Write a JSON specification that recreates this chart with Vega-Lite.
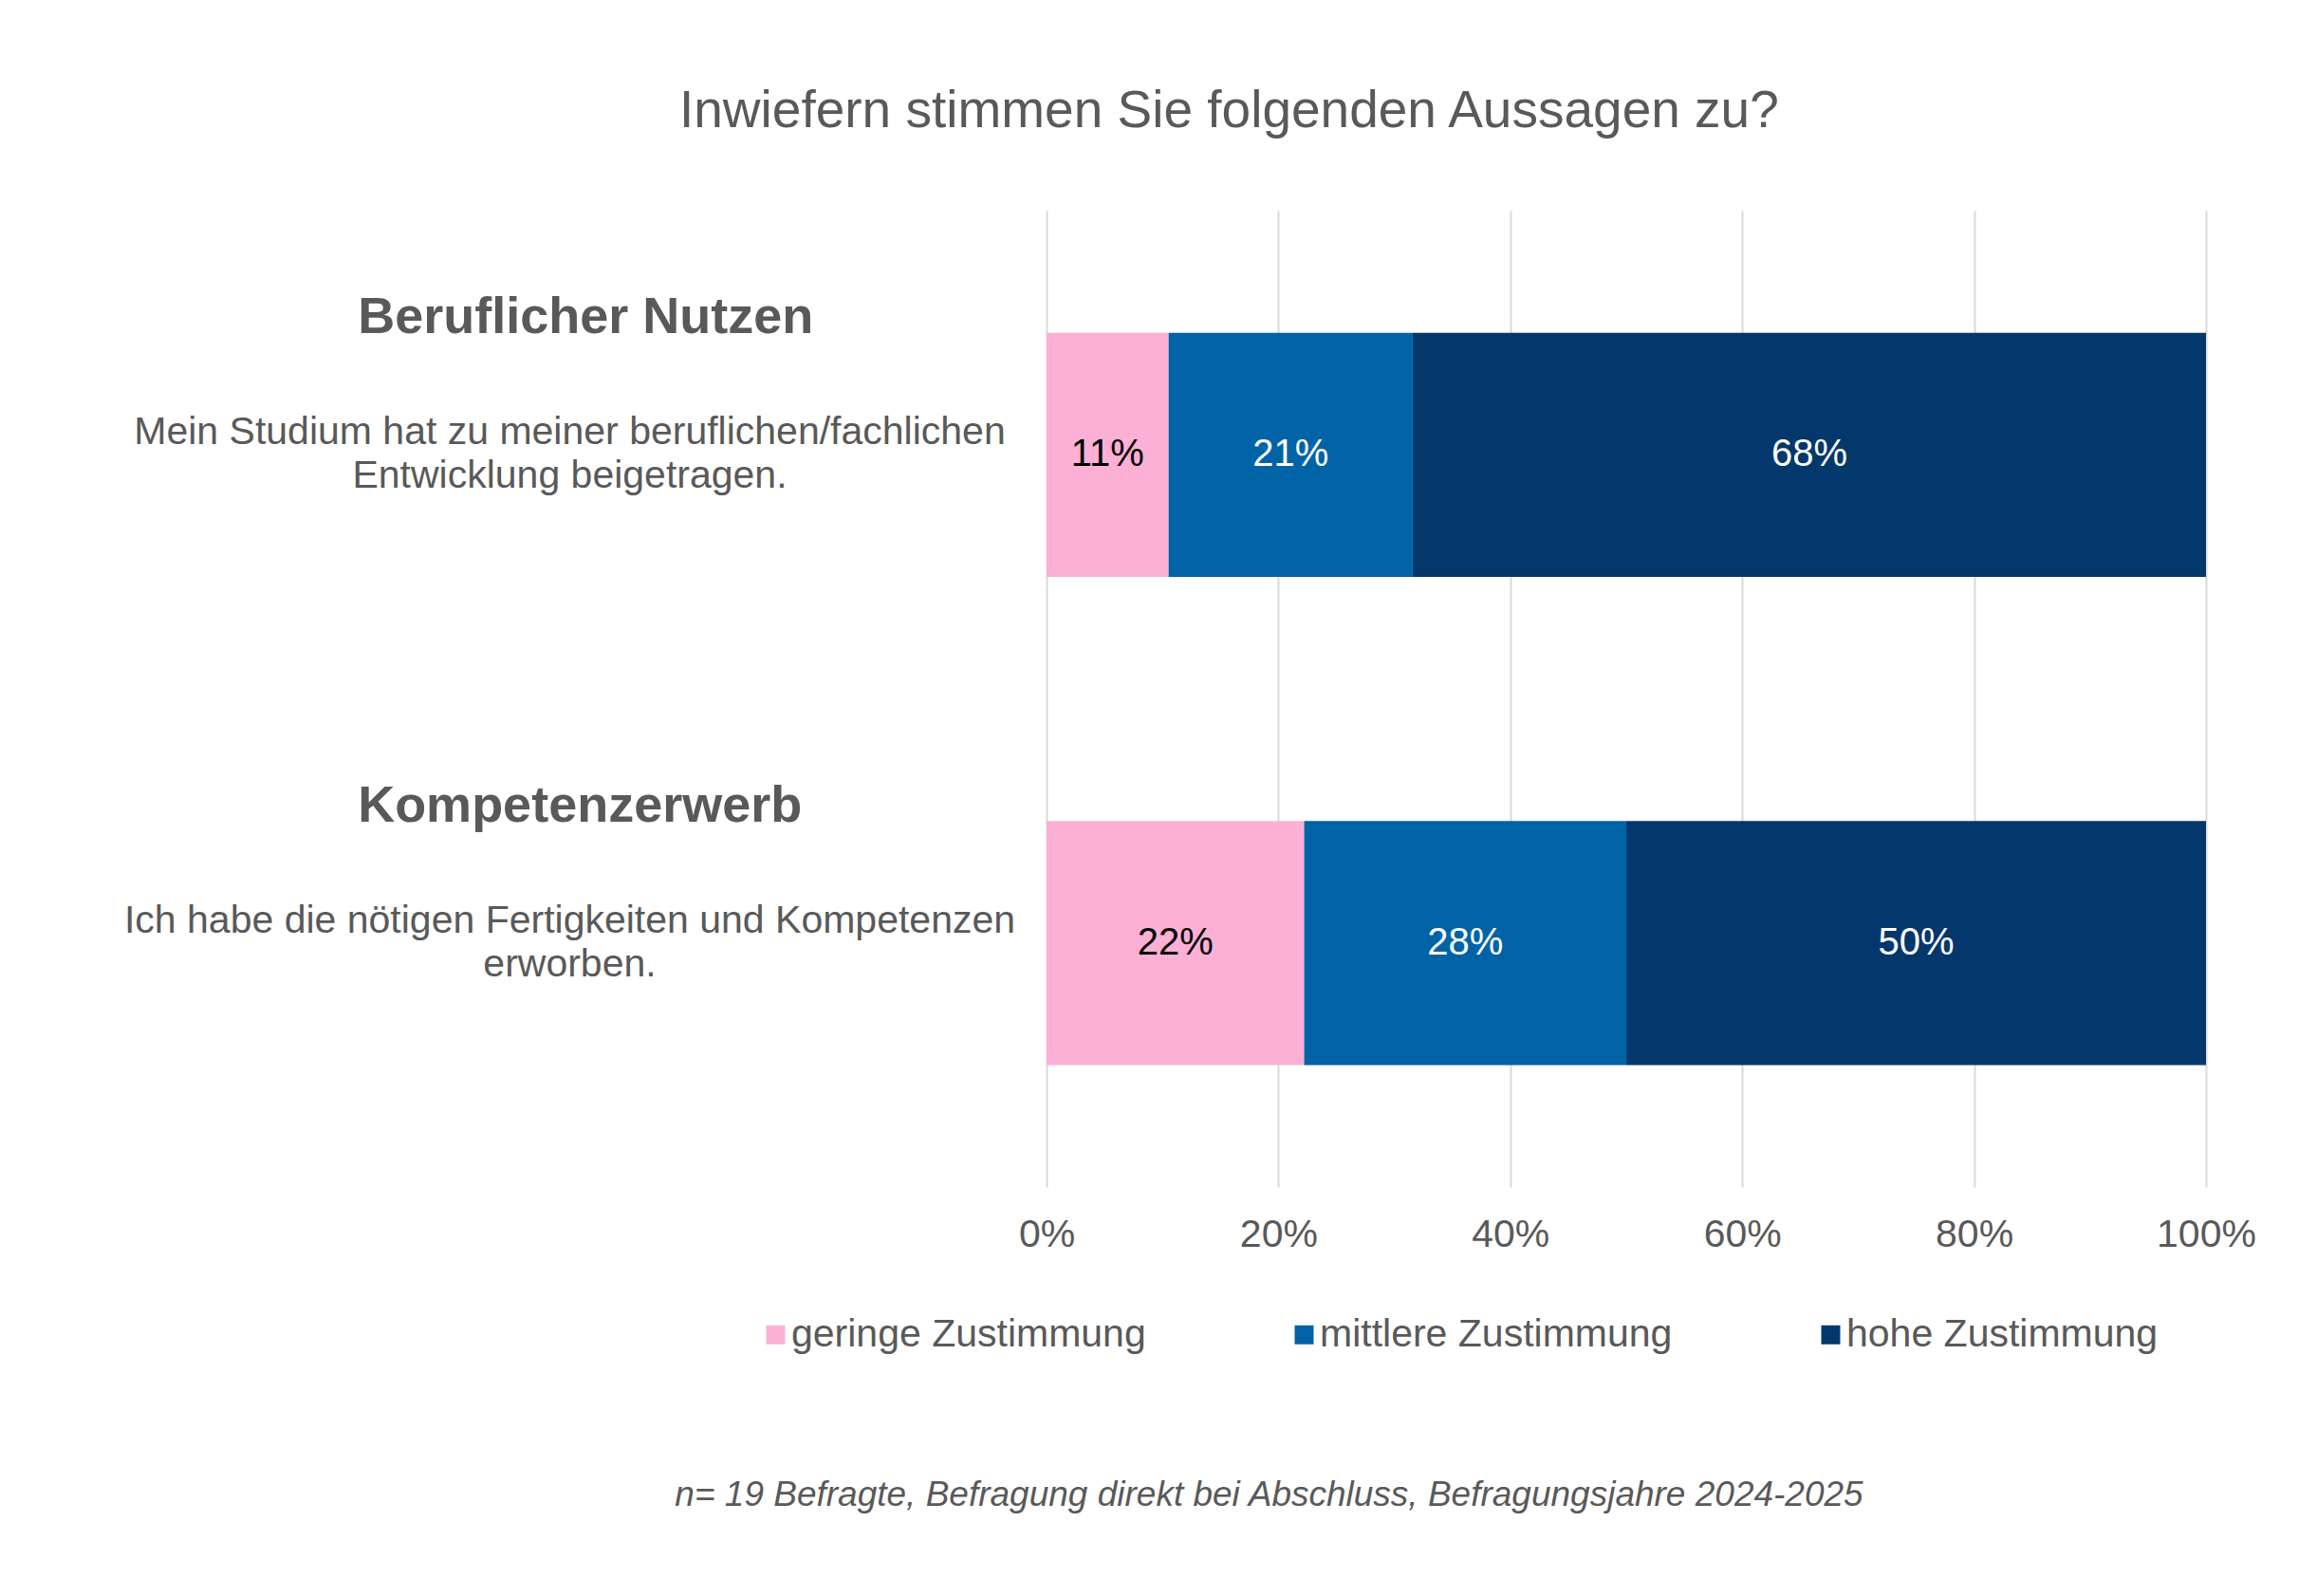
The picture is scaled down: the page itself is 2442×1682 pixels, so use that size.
{
  "$schema": "https://vega.github.io/schema/vega-lite/v6.json",
  "description": "Inwiefern stimmen Sie folgenden Aussagen zu?",
  "autosize": {"type": "none"},
  "width": 1222,
  "height": 1029,
  "padding": {"left": 1103, "top": 222, "right": 117, "bottom": 431},
  "background": "white",
  "config": {
    "font": "Liberation Sans",
    "view": {"stroke": null}
  },
  "title": {
    "text": "Inwiefern stimmen Sie folgenden Aussagen zu?",
    "fontSize": 55,
    "fontWeight": "normal",
    "color": "#595959",
    "anchor": "start",
    "frame": "group",
    "dx": -387,
    "baseline": "alphabetic",
    "offset": 33
  },
  "data": {
    "values": [
      {"thema": "Beruflicher Nutzen", "aussage": "Mein Studium hat zu meiner beruflichen/fachlichen\nEntwicklung beigetragen.", "stufe": "geringe Zustimmung", "rang": 1, "anteil": 0.1053},
      {"thema": "Beruflicher Nutzen", "aussage": "Mein Studium hat zu meiner beruflichen/fachlichen\nEntwicklung beigetragen.", "stufe": "mittlere Zustimmung", "rang": 2, "anteil": 0.2105},
      {"thema": "Beruflicher Nutzen", "aussage": "Mein Studium hat zu meiner beruflichen/fachlichen\nEntwicklung beigetragen.", "stufe": "hohe Zustimmung", "rang": 3, "anteil": 0.6842},
      {"thema": "Kompetenzerwerb", "aussage": "Ich habe die nötigen Fertigkeiten und Kompetenzen\nerworben.", "stufe": "geringe Zustimmung", "rang": 1, "anteil": 0.2222},
      {"thema": "Kompetenzerwerb", "aussage": "Ich habe die nötigen Fertigkeiten und Kompetenzen\nerworben.", "stufe": "mittlere Zustimmung", "rang": 2, "anteil": 0.2778},
      {"thema": "Kompetenzerwerb", "aussage": "Ich habe die nötigen Fertigkeiten und Kompetenzen\nerworben.", "stufe": "hohe Zustimmung", "rang": 3, "anteil": 0.5}
    ]
  },
  "transform": [
    {"stack": "anteil", "groupby": ["aussage"], "sort": [{"field": "rang", "order": "ascending"}], "as": ["x0", "x1"]},
    {"calculate": "(datum.x0 + datum.x1) / 2", "as": "mitte"}
  ],
  "encoding": {
    "y": {
      "field": "aussage",
      "type": "nominal",
      "sort": null,
      "scale": {"paddingInner": 0.5, "paddingOuter": 0.25},
      "axis": {
        "title": null,
        "domain": false,
        "ticks": false,
        "grid": false,
        "labelExpr": "split(datum.label, '\\n')",
        "labelAlign": "center",
        "labelBaseline": "middle",
        "labelPadding": 503,
        "labelOffset": -23,
        "labelFontSize": 41,
        "labelLineHeight": 46,
        "labelColor": "#595959",
        "labelLimit": 1200
      }
    }
  },
  "layer": [
    {
      "mark": {"type": "bar"},
      "encoding": {
        "x": {
          "field": "x0",
          "type": "quantitative",
          "scale": {"domain": [0, 1], "nice": false},
          "axis": {
            "values": [0, 0.2, 0.4, 0.6, 0.8, 1],
            "format": ".0%",
            "domain": false,
            "ticks": false,
            "grid": true,
            "gridColor": "#D9D9D9",
            "gridWidth": 2,
            "labelFlush": false,
            "labelFontSize": 41,
            "labelColor": "#595959",
            "labelPadding": 30,
            "title": "n= 19 Befragte, Befragung direkt bei Abschluss, Befragungsjahre 2024-2025",
            "titleFontSize": 37,
            "titleFontStyle": "italic",
            "titleFontWeight": "normal",
            "titleColor": "#595959",
            "titleX": 234,
            "titleY": 335,
            "titleAlign": "center",
            "titleBaseline": "alphabetic"
          }
        },
        "x2": {"field": "x1"},
        "color": {
          "field": "stufe",
          "type": "nominal",
          "scale": {
            "domain": ["geringe Zustimmung", "mittlere Zustimmung", "hohe Zustimmung"],
            "range": ["#FDB0D6", "#0063A6", "#04376B"]
          },
          "legend": {
            "title": null,
            "orient": "none",
            "legendX": -306,
            "legendY": 1164,
            "direction": "horizontal",
            "columns": 3,
            "columnPadding": 146,
            "symbolType": "square",
            "symbolSize": 400,
            "symbolStrokeWidth": 0,
            "labelOffset": -4,
            "labelFontSize": 41,
            "labelColor": "#595959",
            "labelLimit": 1000
          }
        }
      }
    },
    {
      "mark": {"type": "text", "fontSize": 40, "align": "center", "baseline": "middle"},
      "encoding": {
        "x": {"field": "mitte", "type": "quantitative"},
        "text": {"field": "anteil", "type": "quantitative", "format": ".0%"},
        "color": {
          "condition": {"test": "datum.rang == 1", "value": "#000000"},
          "value": "#FFFFFF"
        }
      }
    },
    {
      "transform": [{"filter": "datum.rang == 1"}],
      "mark": {"type": "text", "fontSize": 54, "fontWeight": "bold", "align": "left", "baseline": "alphabetic", "dy": -128, "color": "#595959"},
      "encoding": {
        "x": {"datum": -0.594},
        "text": {"field": "thema"}
      }
    }
  ]
}
